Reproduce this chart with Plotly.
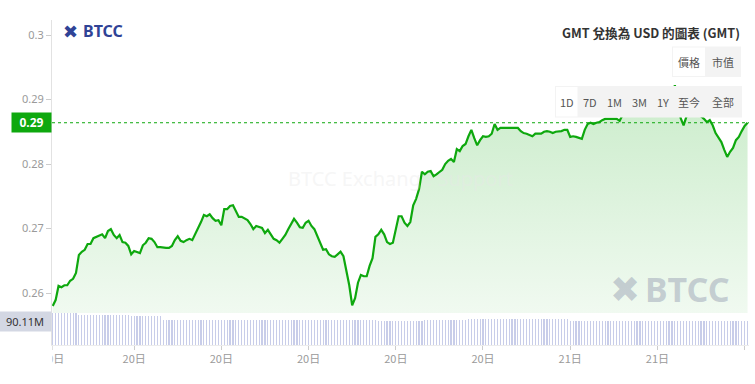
import plotly.graph_objects as go
import pandas as pd

# ---------------- data ----------------
times = pd.date_range("2024-05-20 06:12", periods=240, freq="6min")

price = [
    0.2580, 0.2589, 0.2611, 0.2609, 0.2612, 0.2612, 0.2619, 0.2622, 0.2631, 0.2659,
    0.2664, 0.2667, 0.2676, 0.2676, 0.2685, 0.2687, 0.2690, 0.2691, 0.2685, 0.2696,
    0.2699, 0.2690, 0.2685, 0.2690, 0.2679, 0.2678, 0.2673, 0.2660, 0.2665, 0.2664,
    0.2662, 0.2674, 0.2678, 0.2685, 0.2684, 0.2679, 0.2671, 0.2671, 0.2670, 0.2670,
    0.2670, 0.2673, 0.2682, 0.2688, 0.2681, 0.2679, 0.2682, 0.2684, 0.2682, 0.2691,
    0.2699, 0.2710, 0.2721, 0.2719, 0.2722, 0.2716, 0.2712, 0.2713, 0.2705, 0.2730,
    0.2730, 0.2735, 0.2736, 0.2726, 0.2718, 0.2718, 0.2715, 0.2713, 0.2707, 0.2699,
    0.2704, 0.2702, 0.2701, 0.2693, 0.2698, 0.2691, 0.2684, 0.2682, 0.2678, 0.2684,
    0.2690, 0.2699, 0.2707, 0.2715, 0.2709, 0.2702, 0.2701, 0.2709, 0.2712, 0.2704,
    0.2699, 0.2688, 0.2679, 0.2667, 0.2668, 0.2660, 0.2657, 0.2656, 0.2660, 0.2664,
    0.2657, 0.2636, 0.2612, 0.2581, 0.2592, 0.2616, 0.2628, 0.2626, 0.2626, 0.2642,
    0.2654, 0.2687, 0.2691, 0.2698, 0.2691, 0.2679, 0.2676, 0.2678, 0.2701, 0.2719,
    0.2719, 0.2709, 0.2704, 0.2710, 0.2736, 0.2746, 0.2761, 0.2788, 0.2784, 0.2788,
    0.2789, 0.2781, 0.2784, 0.2788, 0.2791, 0.2800, 0.2805, 0.2808, 0.2803, 0.2823,
    0.2820, 0.2828, 0.2831, 0.2843, 0.2853, 0.2840, 0.2829, 0.2837, 0.2843, 0.2842,
    0.2843, 0.2847, 0.2862, 0.2853, 0.2856, 0.2856, 0.2856, 0.2857, 0.2857, 0.2856,
    0.2856, 0.2851, 0.2848, 0.2847, 0.2845, 0.2843, 0.2847, 0.2847, 0.2847, 0.2850,
    0.2851, 0.2850, 0.2848, 0.2850, 0.2850, 0.2851, 0.2853, 0.2853, 0.2842, 0.2843,
    0.2842, 0.2840, 0.2839, 0.2853, 0.2862, 0.2864, 0.2862, 0.2864, 0.2865, 0.2868,
    0.2870, 0.2870, 0.2870, 0.2871, 0.2870, 0.2867, 0.2876, 0.2879, 0.2878, 0.2881,
    0.2881, 0.2882, 0.2884, 0.2882, 0.2884, 0.2885, 0.2887, 0.2887, 0.2888, 0.2890,
    0.2891, 0.2893, 0.2895, 0.2905, 0.2922, 0.2899, 0.2871, 0.2860, 0.2874, 0.2881,
    0.2884, 0.2881, 0.2878, 0.2874, 0.2870, 0.2865, 0.2868, 0.2860, 0.2848, 0.2840,
    0.2834, 0.2822, 0.2811, 0.2819, 0.2825, 0.2837, 0.2842, 0.2851, 0.2859, 0.2864,
]

volume_m = [
    120.0, 120.1, 119.9, 120.0, 120.1, 119.8, 119.9, 120.0, 119.7, 113.0,
    112.8, 112.9, 112.6, 112.7, 112.5, 112.8, 112.6, 112.4, 112.5, 112.3,
    112.6, 112.4, 112.2, 112.5, 112.3, 112.1, 112.0, 109.2, 109.0, 108.9,
    109.1, 108.8, 108.7, 108.9, 108.6, 108.5, 108.7, 108.4, 94.6, 94.4,
    94.5, 94.3, 94.2, 94.4, 94.1, 94.0, 94.2, 93.9, 94.1, 93.8,
    93.9, 94.0, 93.7, 93.8, 94.0, 93.6, 93.8, 93.9, 93.5, 93.7,
    93.8, 93.6, 93.4, 93.7, 93.5, 93.6, 93.3, 93.5, 93.6, 93.4,
    93.5, 93.2, 93.4, 93.3, 93.5, 93.1, 93.3, 93.4, 93.2, 93.0,
    93.2, 93.3, 93.1, 93.0, 93.2, 92.9, 93.1, 93.0, 92.8, 93.0,
    92.9, 92.7, 92.9, 92.8, 92.6, 92.8, 92.7, 92.5, 92.7, 92.6,
    92.4, 92.6, 92.5, 92.3, 92.5, 92.4, 92.2, 92.4, 92.3, 92.1,
    92.3, 92.2, 92.0, 90.5, 90.4, 90.6, 90.3, 90.5, 90.4, 90.2,
    90.4, 90.3, 90.5, 90.2, 90.4, 90.3, 90.1, 90.3, 93.9, 94.0,
    93.8, 94.1, 93.9, 94.0, 93.8, 94.1, 93.9, 94.0, 93.8, 94.1,
    93.9, 94.0, 93.8, 97.6, 97.5, 97.7, 97.4, 97.6, 97.5, 97.7,
    97.4, 97.6, 97.5, 97.3, 97.5, 97.4, 97.2, 97.4, 97.3, 97.1,
    97.3, 97.2, 97.0, 97.2, 97.1, 96.9, 97.1, 97.0, 96.8, 97.0,
    96.9, 96.7, 96.9, 96.8, 96.6, 96.8, 96.7, 96.5, 91.4, 91.3,
    91.5, 91.2, 91.4, 91.3, 91.1, 91.3, 91.2, 91.0, 91.2, 91.1,
    91.3, 91.0, 91.2, 91.1, 90.9, 91.1, 91.0, 90.8, 91.0, 90.9,
    91.1, 90.8, 91.0, 90.9, 90.7, 90.9, 90.8, 90.6, 90.8, 90.7,
    90.9, 90.6, 90.8, 90.7, 90.5, 90.7, 90.6, 90.4, 90.6, 90.5,
    90.7, 90.4, 90.6, 90.5, 90.3, 90.5, 90.4, 90.2, 90.4, 90.3,
    90.5, 90.2, 90.4, 90.3, 90.1, 90.3, 90.2, 90.0, 90.2, 90.11,
]

tick_times = [
    "2024-05-20 06:12", "2024-05-20 09:00", "2024-05-20 12:00", "2024-05-20 15:00",
    "2024-05-20 18:00", "2024-05-20 21:00", "2024-05-21 00:00", "2024-05-21 03:00",
    "2024-05-21 06:00",
]
tick_text = ["20日", "20日", "20日", "20日", "20日", "20日", "21日", "21日", "21日"]

title_text = "GMT 兌換為 USD 的圖表 (GMT)"
metric_buttons = ["價格", "市值"]
range_buttons = ["1D", "7D", "1M", "3M", "1Y", "至今", "全部"]

# ---------------- layout helpers ----------------
W, H = 755, 384
L, R, T, B = 52, 6, 20, 39
PW, PH = W - L - R, H - T - B


def px(x):
    return (x - L) / PW


def py(y):
    return (H - B - y) / PH


split = py(313)
GREEN = "#0ea80e"
CJK = "Noto Sans CJK TC, Noto Sans, sans-serif"
LAT = "Noto Sans, DejaVu Sans, sans-serif"

step = pd.Timedelta(minutes=6)
x_range = [times[0] - 0.25 * step, times[-1] + 0.5 * step]

fig = go.Figure()

fig.add_trace(go.Bar(
    x=times, y=volume_m, xaxis="x", yaxis="y2",
    width=0.4 * step.total_seconds() * 1000,
    marker=dict(color="rgba(176,184,224,0.7)", line=dict(width=0)),
    hoverinfo="skip",
))

fig.add_trace(go.Scatter(
    x=times, y=price, xaxis="x", yaxis="y", mode="lines",
    line=dict(color=GREEN, width=2.2),
    fill="tozeroy",
    fillgradient=dict(
        type="vertical", start=0.2569, stop=max(price),
        colorscale=[[0, "rgba(14,168,14,0.06)"], [1, "rgba(14,168,14,0.22)"]],
    ),
    hoverinfo="skip",
))

fig.update_layout(
    width=W, height=H,
    margin=dict(l=L, r=R, t=T, b=B),
    paper_bgcolor="white", plot_bgcolor="white",
    showlegend=False,
    bargap=0,
    xaxis=dict(
        range=x_range, anchor="y2", showgrid=False, zeroline=False,
        tickvals=tick_times, ticktext=tick_text,
        ticks="outside", ticklen=4, tickcolor="#cccccc",
        tickfont=dict(family=CJK, size=11, color="#9a9a9a"),
        showline=True, linecolor="#ececec",
    ),
    yaxis=dict(
        domain=[split, 1], range=[0.2569, 0.30233],
        tick0=0, dtick=0.01, showgrid=False, zeroline=False,
        ticks="outside", ticklen=5, tickcolor="#cccccc",
        tickfont=dict(family=LAT, size=11, color="#9a9a9a"),
        showline=True, linecolor="#e2e2e2",
    ),
    yaxis2=dict(
        domain=[0, split], range=[0, 120.2],
        showgrid=False, zeroline=False, showticklabels=False, ticks="",
        showline=True, linecolor="#e2e2e2",
    ),
)

shapes = []
# current price dotted line
shapes.append(dict(type="line", xref="x domain", x0=0, x1=1, yref="y",
                   y0=price[-1], y1=price[-1],
                   line=dict(color=GREEN, width=1, dash="dot"), layer="above"))
# button panels
shapes.append(dict(type="rect", xref="paper", yref="paper",
                   x0=px(672), x1=px(741), y0=py(77), y1=py(46.5),
                   fillcolor="#f3f3f3", line=dict(width=0), layer="above"))
shapes.append(dict(type="rect", xref="paper", yref="paper",
                   x0=px(673), x1=px(705), y0=py(76), y1=py(47.5),
                   fillcolor="white", line=dict(width=0), layer="above"))
shapes.append(dict(type="rect", xref="paper", yref="paper",
                   x0=px(555), x1=px(742), y0=py(117.5), y1=py(86),
                   fillcolor="#f3f3f3", line=dict(width=0), layer="above"))
shapes.append(dict(type="rect", xref="paper", yref="paper",
                   x0=px(556), x1=px(577.5), y0=py(116.5), y1=py(87),
                   fillcolor="white", line=dict(width=0), layer="above"))
# hide the clipped part of the first time label
shapes.append(dict(type="rect", xref="paper", yref="paper",
                   x0=px(0), x1=px(52.4), y0=py(384), y1=py(346),
                   fillcolor="white", line=dict(width=0), layer="above"))
fig.update_layout(shapes=shapes)


def text_at(x, y, text, font, xanchor="center"):
    return dict(xref="paper", yref="paper", x=px(x), y=py(y), text=text,
                showarrow=False, xanchor=xanchor, yanchor="middle", font=font)


ann = []
ann.append(text_at(400, 178, "BTCC Exchange Support",
                   dict(family=LAT, size=20, color="rgba(232,232,232,0.4)")))
ann.append(text_at(625, 289, "✖",
                   dict(family="DejaVu Sans", size=36, color="rgba(150,158,178,0.48)")))
ann.append(text_at(643, 289, "<b>BTCC</b>",
                   dict(family=LAT, size=34, color="rgba(150,158,178,0.48)"), "left"))
ann.append(text_at(70.5, 31.5, "✖",
                   dict(family="DejaVu Sans", size=18, color="#2f4396")))
ann.append(text_at(80.5, 31.5, "<b>BTCC</b>",
                   dict(family=LAT, size=16, color="#2f4396"), "left"))
ann.append(text_at(742, 32, "<b>" + title_text + "</b>",
                   dict(family=CJK, size=12.6, color="#333333"), "right"))
for label, cx in zip(metric_buttons, [689, 723]):
    ann.append(text_at(cx, 61.7, label, dict(family=CJK, size=11, color="#555555")))
for label, cx in zip(range_buttons, [567, 590, 614.5, 639, 662.5, 688.5, 723]):
    ann.append(text_at(cx, 101.7, label, dict(family=CJK, size=11, color="#555555")))
# price badge
ann.append(dict(xref="paper", yref="y", x=0, y=price[-1], xanchor="right", yanchor="middle",
                text="<b>%.2f</b>" % price[-1], showarrow=False,
                width=35, height=15, borderpad=2, bgcolor=GREEN,
                font=dict(family=LAT, size=12, color="white")))
# volume badge
ann.append(dict(xref="paper", yref="y2", x=0, y=volume_m[-1], xanchor="right", yanchor="middle",
                text="%.2fM" % volume_m[-1], showarrow=False,
                width=48, height=15, borderpad=2, bgcolor="#d3d7e3",
                font=dict(family=LAT, size=11, color="#333333")))
fig.update_layout(annotations=ann)

fig.write_html("out.html", config={"displayModeBar": False},
               post_script="document.body.style.margin='0px';")
